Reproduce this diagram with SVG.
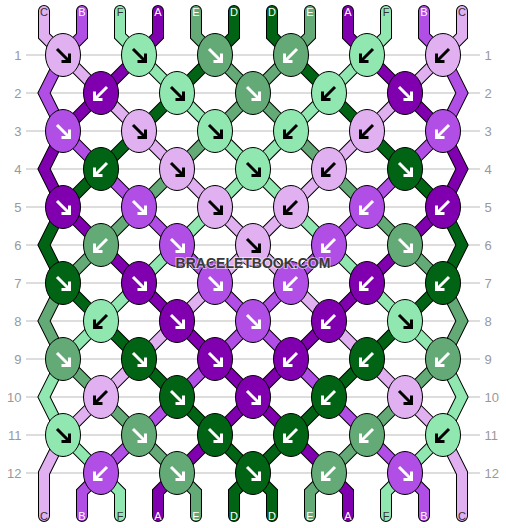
<svg xmlns="http://www.w3.org/2000/svg" xmlns:xlink="http://www.w3.org/1999/xlink" width="506" height="528" viewBox="0 0 506 528">
<style>
.grid line{stroke:#bbb;stroke-width:1}
.num{font-family:"Liberation Sans",Arial,sans-serif;font-size:13px;fill:#999}
.nl{text-anchor:end}
.nr{text-anchor:start}
.so{fill:none;stroke:#000;stroke-width:12;stroke-linecap:round;stroke-linejoin:miter}
.sf{fill:none;stroke-width:10;stroke-linecap:round;stroke-linejoin:miter}
.cC{stroke:#e0b0f0}.cB{stroke:#b04ee6}.cF{stroke:#90e8b0}.cA{stroke:#8000b0}.cE{stroke:#63aa76}.cD{stroke:#006414}
ellipse{stroke:#000;stroke-width:1}
.kC{fill:#e0b0f0}.kB{fill:#b04ee6}.kF{fill:#90e8b0}.kA{fill:#8000b0}.kE{fill:#63aa76}.kD{fill:#006414}
.ab{fill:none;stroke:#000;stroke-width:3}
.aw{fill:none;stroke:#fff;stroke-width:3}
.lbl{font-family:"Liberation Sans",Arial,sans-serif;font-size:11px;text-anchor:middle}
.ld{fill:#333}.lw{fill:#fff}
.wm{font-family:"Liberation Sans",Arial,sans-serif;font-size:14px;font-weight:bold;text-anchor:middle;fill:#3a3a3a;stroke:#fff;stroke-opacity:0.55;stroke-width:2;paint-order:stroke}
</style>
<defs>
<path id="ar" d="M-6,-6L5,5M6.5,-1.5V6.5H-1.5"/>
<path id="al" d="M6,-6L-5,5M-6.5,-1.5V6.5H1.5"/>
<path id="s0" d="M44,11V36L63,55L443,435L462,473V516"/>
<path id="s1" d="M82,11V36L63,55L44,93L63,131L405,473L424,492V516"/>
<path id="s2" d="M120,11V36L139,55L443,359L462,397L443,435L405,473L386,492V516"/>
<path id="s3" d="M158,11V36L139,55L63,131L44,169L63,207L329,473L348,492V516"/>
<path id="s4" d="M196,11V36L215,55L443,283L462,321L443,359L329,473L310,492V516"/>
<path id="s5" d="M234,11V36L215,55L63,207L44,245L63,283L253,473L272,492V516"/>
<path id="s6" d="M272,11V36L291,55L443,207L462,245L443,283L253,473L234,492V516"/>
<path id="s7" d="M310,11V36L291,55L63,283L44,321L63,359L177,473L196,492V516"/>
<path id="s8" d="M348,11V36L367,55L443,131L462,169L443,207L177,473L158,492V516"/>
<path id="s9" d="M386,11V36L367,55L63,359L44,397L63,435L101,473L120,492V516"/>
<path id="s10" d="M424,11V36L443,55L462,93L443,131L101,473L82,492V516"/>
<path id="s11" d="M462,11V36L443,55L63,435L44,473V516"/>
</defs>
<rect width="506" height="528" fill="#fff"/>
<g class="grid">
<line x1="26" y1="55" x2="480" y2="55"/><line x1="26" y1="93" x2="480" y2="93"/><line x1="26" y1="131" x2="480" y2="131"/><line x1="26" y1="169" x2="480" y2="169"/><line x1="26" y1="207" x2="480" y2="207"/><line x1="26" y1="245" x2="480" y2="245"/><line x1="26" y1="283" x2="480" y2="283"/><line x1="26" y1="321" x2="480" y2="321"/><line x1="26" y1="359" x2="480" y2="359"/><line x1="26" y1="397" x2="480" y2="397"/><line x1="26" y1="435" x2="480" y2="435"/><line x1="26" y1="473" x2="480" y2="473"/>
</g>
<g id="row-numbers">
<text class="num nl" x="21.5" y="59.5">1</text><text class="num nl" x="21.5" y="97.5">2</text><text class="num nl" x="21.5" y="135.5">3</text><text class="num nl" x="21.5" y="173.5">4</text><text class="num nl" x="21.5" y="211.5">5</text><text class="num nl" x="21.5" y="249.5">6</text><text class="num nl" x="21.5" y="287.5">7</text><text class="num nl" x="21.5" y="325.5">8</text><text class="num nl" x="21.5" y="363.5">9</text><text class="num nl" x="21.5" y="401.5">10</text><text class="num nl" x="21.5" y="439.5">11</text><text class="num nl" x="21.5" y="477.5">12</text>
<text class="num nr" x="484.5" y="59.5">1</text><text class="num nr" x="484.5" y="97.5">2</text><text class="num nr" x="484.5" y="135.5">3</text><text class="num nr" x="484.5" y="173.5">4</text><text class="num nr" x="484.5" y="211.5">5</text><text class="num nr" x="484.5" y="249.5">6</text><text class="num nr" x="484.5" y="287.5">7</text><text class="num nr" x="484.5" y="325.5">8</text><text class="num nr" x="484.5" y="363.5">9</text><text class="num nr" x="484.5" y="401.5">10</text><text class="num nr" x="484.5" y="439.5">11</text><text class="num nr" x="484.5" y="477.5">12</text>
</g>
<g id="connectors">
<use href="#s0" class="so"/><use href="#s1" class="so"/><use href="#s2" class="so"/><use href="#s3" class="so"/><use href="#s4" class="so"/><use href="#s5" class="so"/><use href="#s6" class="so"/><use href="#s7" class="so"/><use href="#s8" class="so"/><use href="#s9" class="so"/><use href="#s10" class="so"/><use href="#s11" class="so"/>
<use href="#s0" class="sf cC"/><use href="#s1" class="sf cB"/><use href="#s2" class="sf cF"/><use href="#s3" class="sf cA"/><use href="#s4" class="sf cE"/><use href="#s5" class="sf cD"/><use href="#s6" class="sf cD"/><use href="#s7" class="sf cE"/><use href="#s8" class="sf cA"/><use href="#s9" class="sf cF"/><use href="#s10" class="sf cB"/><use href="#s11" class="sf cC"/>
</g>
<g id="string-labels">
<text class="lbl ld" x="44" y="16">C</text><text class="lbl lw" x="82" y="16">B</text><text class="lbl ld" x="120" y="16">F</text><text class="lbl lw" x="158" y="16">A</text><text class="lbl lw" x="196" y="16">E</text><text class="lbl lw" x="234" y="16">D</text><text class="lbl lw" x="272" y="16">D</text><text class="lbl lw" x="310" y="16">E</text><text class="lbl lw" x="348" y="16">A</text><text class="lbl ld" x="386" y="16">F</text><text class="lbl lw" x="424" y="16">B</text><text class="lbl ld" x="462" y="16">C</text>
<text class="lbl ld" x="44" y="520">C</text><text class="lbl lw" x="82" y="520">B</text><text class="lbl ld" x="120" y="520">F</text><text class="lbl lw" x="158" y="520">A</text><text class="lbl lw" x="196" y="520">E</text><text class="lbl lw" x="234" y="520">D</text><text class="lbl lw" x="272" y="520">D</text><text class="lbl lw" x="310" y="520">E</text><text class="lbl lw" x="348" y="520">A</text><text class="lbl ld" x="386" y="520">F</text><text class="lbl lw" x="424" y="520">B</text><text class="lbl ld" x="462" y="520">C</text>
</g>
<g id="knots">
<g id="k1-1" transform="translate(63,55)"><ellipse class="kC" rx="17.5" ry="21.5"/><use href="#ar" class="ab"/></g>
<g id="k1-2" transform="translate(139,55)"><ellipse class="kF" rx="17.5" ry="21.5"/><use href="#ar" class="ab"/></g>
<g id="k1-3" transform="translate(215,55)"><ellipse class="kE" rx="17.5" ry="21.5"/><use href="#ar" class="aw"/></g>
<g id="k1-4" transform="translate(291,55)"><ellipse class="kE" rx="17.5" ry="21.5"/><use href="#al" class="aw"/></g>
<g id="k1-5" transform="translate(367,55)"><ellipse class="kF" rx="17.5" ry="21.5"/><use href="#al" class="ab"/></g>
<g id="k1-6" transform="translate(443,55)"><ellipse class="kC" rx="17.5" ry="21.5"/><use href="#al" class="ab"/></g>
<g id="k2-1" transform="translate(101,93)"><ellipse class="kA" rx="17.5" ry="21.5"/><use href="#al" class="aw"/></g>
<g id="k2-2" transform="translate(177,93)"><ellipse class="kF" rx="17.5" ry="21.5"/><use href="#ar" class="ab"/></g>
<g id="k2-3" transform="translate(253,93)"><ellipse class="kE" rx="17.5" ry="21.5"/><use href="#ar" class="aw"/></g>
<g id="k2-4" transform="translate(329,93)"><ellipse class="kF" rx="17.5" ry="21.5"/><use href="#al" class="ab"/></g>
<g id="k2-5" transform="translate(405,93)"><ellipse class="kA" rx="17.5" ry="21.5"/><use href="#ar" class="aw"/></g>
<g id="k3-1" transform="translate(63,131)"><ellipse class="kB" rx="17.5" ry="21.5"/><use href="#ar" class="aw"/></g>
<g id="k3-2" transform="translate(139,131)"><ellipse class="kC" rx="17.5" ry="21.5"/><use href="#ar" class="ab"/></g>
<g id="k3-3" transform="translate(215,131)"><ellipse class="kF" rx="17.5" ry="21.5"/><use href="#ar" class="ab"/></g>
<g id="k3-4" transform="translate(291,131)"><ellipse class="kF" rx="17.5" ry="21.5"/><use href="#al" class="ab"/></g>
<g id="k3-5" transform="translate(367,131)"><ellipse class="kC" rx="17.5" ry="21.5"/><use href="#al" class="ab"/></g>
<g id="k3-6" transform="translate(443,131)"><ellipse class="kB" rx="17.5" ry="21.5"/><use href="#al" class="aw"/></g>
<g id="k4-1" transform="translate(101,169)"><ellipse class="kD" rx="17.5" ry="21.5"/><use href="#al" class="aw"/></g>
<g id="k4-2" transform="translate(177,169)"><ellipse class="kC" rx="17.5" ry="21.5"/><use href="#ar" class="ab"/></g>
<g id="k4-3" transform="translate(253,169)"><ellipse class="kF" rx="17.5" ry="21.5"/><use href="#ar" class="ab"/></g>
<g id="k4-4" transform="translate(329,169)"><ellipse class="kC" rx="17.5" ry="21.5"/><use href="#al" class="ab"/></g>
<g id="k4-5" transform="translate(405,169)"><ellipse class="kD" rx="17.5" ry="21.5"/><use href="#ar" class="aw"/></g>
<g id="k5-1" transform="translate(63,207)"><ellipse class="kA" rx="17.5" ry="21.5"/><use href="#ar" class="aw"/></g>
<g id="k5-2" transform="translate(139,207)"><ellipse class="kB" rx="17.5" ry="21.5"/><use href="#ar" class="aw"/></g>
<g id="k5-3" transform="translate(215,207)"><ellipse class="kC" rx="17.5" ry="21.5"/><use href="#ar" class="ab"/></g>
<g id="k5-4" transform="translate(291,207)"><ellipse class="kC" rx="17.5" ry="21.5"/><use href="#al" class="ab"/></g>
<g id="k5-5" transform="translate(367,207)"><ellipse class="kB" rx="17.5" ry="21.5"/><use href="#al" class="aw"/></g>
<g id="k5-6" transform="translate(443,207)"><ellipse class="kA" rx="17.5" ry="21.5"/><use href="#al" class="aw"/></g>
<g id="k6-1" transform="translate(101,245)"><ellipse class="kE" rx="17.5" ry="21.5"/><use href="#al" class="aw"/></g>
<g id="k6-2" transform="translate(177,245)"><ellipse class="kB" rx="17.5" ry="21.5"/><use href="#ar" class="aw"/></g>
<g id="k6-3" transform="translate(253,245)"><ellipse class="kC" rx="17.5" ry="21.5"/><use href="#ar" class="ab"/></g>
<g id="k6-4" transform="translate(329,245)"><ellipse class="kB" rx="17.5" ry="21.5"/><use href="#al" class="aw"/></g>
<g id="k6-5" transform="translate(405,245)"><ellipse class="kE" rx="17.5" ry="21.5"/><use href="#ar" class="aw"/></g>
<g id="k7-1" transform="translate(63,283)"><ellipse class="kD" rx="17.5" ry="21.5"/><use href="#ar" class="aw"/></g>
<g id="k7-2" transform="translate(139,283)"><ellipse class="kA" rx="17.5" ry="21.5"/><use href="#ar" class="aw"/></g>
<g id="k7-3" transform="translate(215,283)"><ellipse class="kB" rx="17.5" ry="21.5"/><use href="#ar" class="aw"/></g>
<g id="k7-4" transform="translate(291,283)"><ellipse class="kB" rx="17.5" ry="21.5"/><use href="#al" class="aw"/></g>
<g id="k7-5" transform="translate(367,283)"><ellipse class="kA" rx="17.5" ry="21.5"/><use href="#al" class="aw"/></g>
<g id="k7-6" transform="translate(443,283)"><ellipse class="kD" rx="17.5" ry="21.5"/><use href="#al" class="aw"/></g>
<g id="k8-1" transform="translate(101,321)"><ellipse class="kF" rx="17.5" ry="21.5"/><use href="#al" class="ab"/></g>
<g id="k8-2" transform="translate(177,321)"><ellipse class="kA" rx="17.5" ry="21.5"/><use href="#ar" class="aw"/></g>
<g id="k8-3" transform="translate(253,321)"><ellipse class="kB" rx="17.5" ry="21.5"/><use href="#ar" class="aw"/></g>
<g id="k8-4" transform="translate(329,321)"><ellipse class="kA" rx="17.5" ry="21.5"/><use href="#al" class="aw"/></g>
<g id="k8-5" transform="translate(405,321)"><ellipse class="kF" rx="17.5" ry="21.5"/><use href="#ar" class="ab"/></g>
<g id="k9-1" transform="translate(63,359)"><ellipse class="kE" rx="17.5" ry="21.5"/><use href="#ar" class="aw"/></g>
<g id="k9-2" transform="translate(139,359)"><ellipse class="kD" rx="17.5" ry="21.5"/><use href="#ar" class="aw"/></g>
<g id="k9-3" transform="translate(215,359)"><ellipse class="kA" rx="17.5" ry="21.5"/><use href="#ar" class="aw"/></g>
<g id="k9-4" transform="translate(291,359)"><ellipse class="kA" rx="17.5" ry="21.5"/><use href="#al" class="aw"/></g>
<g id="k9-5" transform="translate(367,359)"><ellipse class="kD" rx="17.5" ry="21.5"/><use href="#al" class="aw"/></g>
<g id="k9-6" transform="translate(443,359)"><ellipse class="kE" rx="17.5" ry="21.5"/><use href="#al" class="aw"/></g>
<g id="k10-1" transform="translate(101,397)"><ellipse class="kC" rx="17.5" ry="21.5"/><use href="#al" class="ab"/></g>
<g id="k10-2" transform="translate(177,397)"><ellipse class="kD" rx="17.5" ry="21.5"/><use href="#ar" class="aw"/></g>
<g id="k10-3" transform="translate(253,397)"><ellipse class="kA" rx="17.5" ry="21.5"/><use href="#ar" class="aw"/></g>
<g id="k10-4" transform="translate(329,397)"><ellipse class="kD" rx="17.5" ry="21.5"/><use href="#al" class="aw"/></g>
<g id="k10-5" transform="translate(405,397)"><ellipse class="kC" rx="17.5" ry="21.5"/><use href="#ar" class="ab"/></g>
<g id="k11-1" transform="translate(63,435)"><ellipse class="kF" rx="17.5" ry="21.5"/><use href="#ar" class="ab"/></g>
<g id="k11-2" transform="translate(139,435)"><ellipse class="kE" rx="17.5" ry="21.5"/><use href="#ar" class="aw"/></g>
<g id="k11-3" transform="translate(215,435)"><ellipse class="kD" rx="17.5" ry="21.5"/><use href="#ar" class="aw"/></g>
<g id="k11-4" transform="translate(291,435)"><ellipse class="kD" rx="17.5" ry="21.5"/><use href="#al" class="aw"/></g>
<g id="k11-5" transform="translate(367,435)"><ellipse class="kE" rx="17.5" ry="21.5"/><use href="#al" class="aw"/></g>
<g id="k11-6" transform="translate(443,435)"><ellipse class="kF" rx="17.5" ry="21.5"/><use href="#al" class="ab"/></g>
<g id="k12-1" transform="translate(101,473)"><ellipse class="kB" rx="17.5" ry="21.5"/><use href="#al" class="aw"/></g>
<g id="k12-2" transform="translate(177,473)"><ellipse class="kE" rx="17.5" ry="21.5"/><use href="#ar" class="aw"/></g>
<g id="k12-3" transform="translate(253,473)"><ellipse class="kD" rx="17.5" ry="21.5"/><use href="#ar" class="aw"/></g>
<g id="k12-4" transform="translate(329,473)"><ellipse class="kE" rx="17.5" ry="21.5"/><use href="#al" class="aw"/></g>
<g id="k12-5" transform="translate(405,473)"><ellipse class="kB" rx="17.5" ry="21.5"/><use href="#ar" class="aw"/></g>
</g>
<text class="wm" x="253" y="268">BRACELETBOOK.COM</text>
</svg>
